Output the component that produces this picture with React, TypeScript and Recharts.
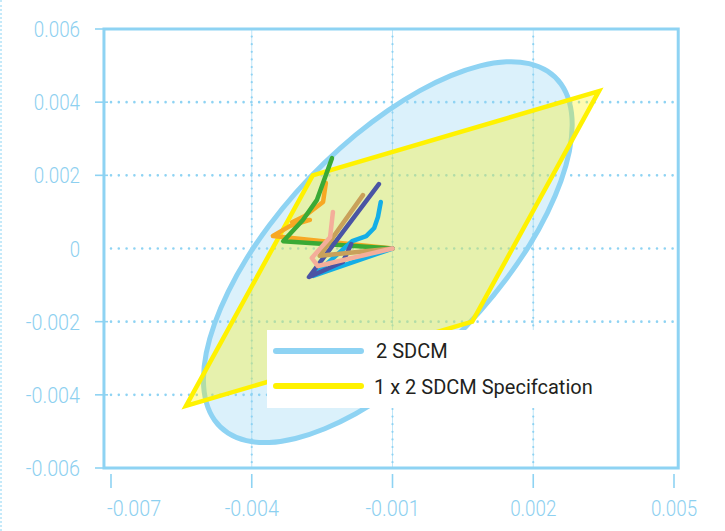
import { ScatterChart, Scatter, XAxis, YAxis, CartesianGrid, ReferenceArea } from 'recharts'

const BLUE = '#8ed3f3'
const YELLOW = '#fff200'
const TEXT_BLUE = '#8dd0f0'

const X_TICKS = [-0.007, -0.004, -0.001, 0.002, 0.005]
const Y_TICKS = [0.006, 0.004, 0.002, 0, -0.002, -0.004, -0.006]
const GRID_X = [-0.004, -0.001, 0.002]
const GRID_Y = [0.004, 0.002, 0, -0.002, -0.004]

// 2 SDCM ellipse outline
const SDCM_ELLIPSE = [
  [0.00285, 0.0034], [0.00279, 0.00402], [0.00261, 0.00452], [0.00232, 0.00487],
  [0.00193, 0.00508], [0.00144, 0.00513], [0.00088, 0.00502], [0.00025, 0.00475],
  [-0.00041, 0.00434], [-0.0011, 0.00379], [-0.00179, 0.00312], [-0.00245, 0.00236],
  [-0.00308, 0.00152], [-0.00364, 0.00063], [-0.00413, -0.00028], [-0.00452, -0.00119],
  [-0.00481, -0.00206], [-0.00499, -0.00287], [-0.00505, -0.0036], [-0.00499, -0.00422],
  [-0.00481, -0.00472], [-0.00452, -0.00507], [-0.00413, -0.00528], [-0.00364, -0.00533],
  [-0.00308, -0.00522], [-0.00245, -0.00495], [-0.00179, -0.00454], [-0.0011, -0.00399],
  [-0.00041, -0.00332], [0.00025, -0.00256], [0.00088, -0.00172], [0.00144, -0.00083],
  [0.00193, 0.00008], [0.00232, 0.00099], [0.00261, 0.00186], [0.00279, 0.00267],
]

// 1 x 2 SDCM specification quadrangle
const SPEC_AREA = [
  [-0.0027, 0.002], [0.0034, 0.0043], [0.0007, -0.002], [-0.0054, -0.0043],
]

const ORANGE_RUN = [
  [-0.00242, 0.00179], [-0.00248, 0.00127], [-0.00287, 0.00089], [-0.00314, 0.00072],
  [-0.00276, 0.00078], [-0.00318, 0.00062], [-0.00355, 0.00034], [-0.001, 0],
]
const GREEN_RUN = [
  [-0.00229, 0.00247], [-0.00261, 0.00133], [-0.00291, 0.00078], [-0.00333, 0.0002], [-0.001, 0],
]
const CYAN_RUN = [
  [-0.00125, 0.00127], [-0.00131, 0.00086], [-0.00139, 0.00056], [-0.00156, 0.00034],
  [-0.00186, 0.0002], [-0.00269, -0.00075], [-0.001, 0],
]
const INDIGO_RUN = [
  [-0.00129, 0.00176], [-0.00278, -0.00078], [-0.00206, -0.00037], [-0.00188, 0.00012],
]
const TAN_RUN = [
  [-0.00163, 0.00146], [-0.00255, -0.0002], [-0.001, 0],
]
const SALMON_RUN = [
  [-0.00227, 0.001], [-0.00233, 0.00031], [-0.00272, -0.00026], [-0.00259, -0.00048], [-0.001, 0],
]

const RUNS = [
  { name: 'orange', color: '#f7a823', pts: ORANGE_RUN },
  { name: 'green', color: '#3aaa35', pts: GREEN_RUN },
  { name: 'cyan', color: '#14aee6', pts: CYAN_RUN },
  { name: 'indigo', color: '#4a54a4', pts: INDIGO_RUN },
  { name: 'tan', color: '#c9a15a', pts: TAN_RUN },
  { name: 'salmon', color: '#f4ae9a', pts: SALMON_RUN },
]

const toPoints = (pairs: number[][]) => pairs.map(([x, y]) => ({ x, y }))

const fmt = (v: number) => (v === 0 ? '0' : v.toFixed(3))
const labelWidth = (s: string) =>
  [...s].reduce((w, c) => w + (c === '.' ? 5 : c === '-' ? 8 : 10.3), 0)

const noDot = () => <g />

const tickText = {
  fill: TEXT_BLUE,
  fontFamily: 'Roboto, sans-serif',
  fontSize: 22,
  fontWeight: 300,
}

function XTick({ x, y, payload, index }: any) {
  const label = fmt(payload.value)
  const first = index === 0
  return (
    <g>
      <line x1={x} x2={x} y1={y + 6} y2={y + 20} stroke={BLUE} strokeWidth={1.6} />
      <text
        x={first ? x - 4 : x}
        y={y + 48}
        textAnchor={first ? 'start' : 'middle'}
        textLength={labelWidth(label)}
        lengthAdjust="spacingAndGlyphs"
        {...tickText}
      >
        {label}
      </text>
    </g>
  )
}

function YTick({ x, y, payload }: any) {
  const label = fmt(payload.value)
  return (
    <g>
      {payload.value !== 0 && (
        <line x1={x - 16} x2={x - 3} y1={y} y2={y} stroke={BLUE} strokeWidth={1.6} />
      )}
      <text
        x={x - 31}
        y={y + 8}
        textAnchor="end"
        textLength={labelWidth(label)}
        lengthAdjust="spacingAndGlyphs"
        {...tickText}
      >
        {label}
      </text>
    </g>
  )
}

function ChartLegend() {
  return (
    <div
      style={{
        position: 'absolute',
        left: 267,
        top: 330,
        width: 409,
        height: 78,
        background: '#fff',
      }}
    >
      <svg width={409} height={78}>
        <line x1={9} x2={94} y1={21} y2={21} stroke={BLUE} strokeWidth={6} strokeLinecap="round" />
        <line x1={9} x2={94} y1={56} y2={56} stroke={YELLOW} strokeWidth={6} strokeLinecap="round" />
        <text x={109} y={28} fontFamily="Roboto, sans-serif" fontSize={20} fill="#231f20">
          2 SDCM
        </text>
        <text x={107} y={64} fontFamily="Roboto, sans-serif" fontSize={20} fill="#231f20">
          1 x 2 SDCM Specifcation
        </text>
      </svg>
    </div>
  )
}

export default function App() {
  return (
    <div
      style={{
        position: 'absolute',
        left: 0,
        top: 0,
        width: 725,
        height: 531,
        background: '#fff',
        overflow: 'hidden',
      }}
    >
      <div
        style={{
          position: 'absolute',
          left: 0,
          top: 0,
          height: 531,
          borderLeft: '2px dotted #c4e9f9',
        }}
      />
      <ScatterChart width={725} height={531} margin={{ top: 29, right: 51, bottom: 8, left: 11 }}>
        <CartesianGrid
          horizontal
          vertical={false}
          horizontalValues={GRID_Y}
          stroke={BLUE}
          strokeWidth={2.6}
          strokeDasharray="0 7.8"
          strokeLinecap="round"
        />
        <CartesianGrid
          horizontal={false}
          vertical
          verticalValues={GRID_X}
          stroke={BLUE}
          strokeWidth={2.2}
          strokeDasharray="0 7.6"
          strokeLinecap="round"
        />
        <CartesianGrid
          horizontal={false}
          vertical
          verticalValues={GRID_X}
          stroke={BLUE}
          strokeWidth={0.8}
          strokeOpacity={0.7}
        />
        <XAxis
          type="number"
          dataKey="x"
          domain={[-0.007, 0.005]}
          ticks={X_TICKS}
          interval={0}
          height={55}
          axisLine={false}
          tickLine={false}
          tickSize={0}
          tickMargin={0}
          tick={<XTick />}
        />
        <YAxis
          type="number"
          dataKey="y"
          domain={[-0.006, 0.006]}
          ticks={Y_TICKS}
          interval={0}
          width={100}
          axisLine={false}
          tickLine={false}
          tickSize={0}
          tickMargin={0}
          tick={<YTick />}
        />
        <Scatter
          name="2 SDCM"
          data={toPoints(SDCM_ELLIPSE)}
          line={{ stroke: BLUE, strokeWidth: 5, fill: BLUE, fillOpacity: 0.32 }}
          lineJointType="basisClosed"
          shape={noDot}
          isAnimationActive={false}
        />
        <Scatter
          name="1 x 2 SDCM Specifcation"
          data={toPoints(SPEC_AREA)}
          line={{ stroke: YELLOW, strokeWidth: 4.5, fill: YELLOW, fillOpacity: 0.31, strokeLinejoin: 'miter' }}
          lineJointType="linearClosed"
          shape={noDot}
          isAnimationActive={false}
        />
        {RUNS.map((r) => (
          <Scatter
            key={r.name}
            name={r.name}
            data={toPoints(r.pts)}
            line={{
              stroke: r.color,
              strokeWidth: 4.5,
              strokeLinecap: 'round',
              strokeLinejoin: 'round',
            }}
            lineJointType="linear"
            shape={noDot}
            isAnimationActive={false}
          />
        ))}
        <ReferenceArea
          x1={-0.00715}
          x2={0.00509}
          y1={-0.006}
          y2={0.006}
          ifOverflow="visible"
          fill="none"
          stroke={BLUE}
          strokeWidth={3}
        />
      </ScatterChart>
      <ChartLegend />
    </div>
  )
}
